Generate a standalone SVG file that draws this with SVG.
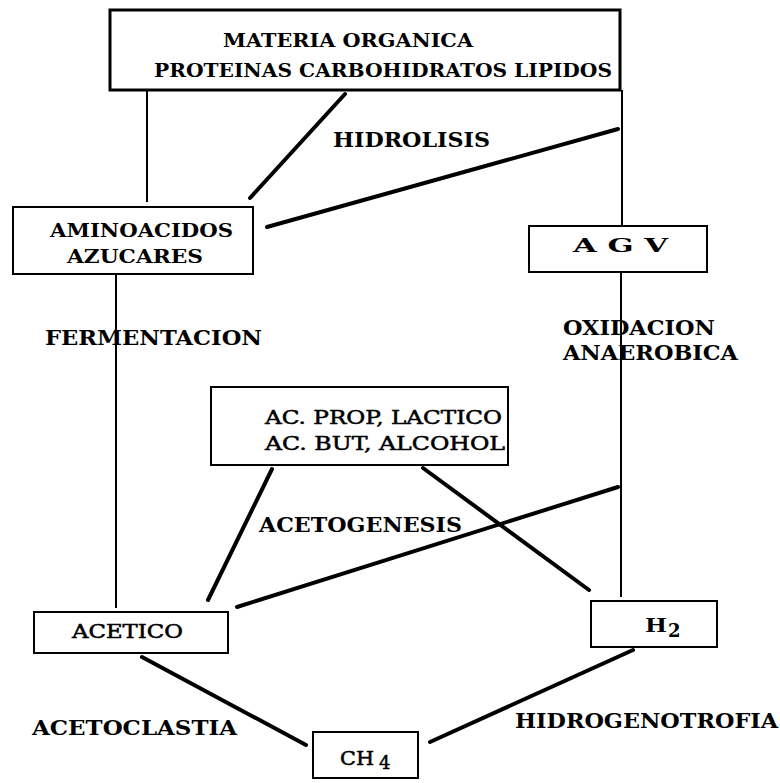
<svg xmlns="http://www.w3.org/2000/svg" width="780" height="783" viewBox="0 0 780 783">
<style>
.box{fill:#fff;stroke:#000;stroke-width:2}
.nt{font-family:"DejaVu Serif","Liberation Serif",serif;font-size:18px;font-weight:bold;fill:#000}
.rg{font-weight:normal;stroke:#000;stroke-width:0.5}
.lb{font-family:"DejaVu Serif","Liberation Serif",serif;font-size:20px;font-weight:bold;fill:#000}
.thin{stroke:#000;stroke-width:2;fill:none}
.thick{stroke:#000;stroke-width:4;fill:none;stroke-linecap:round}
</style>
<rect width="780" height="783" fill="#fff"/>
<g id="connectors">
<line class="thin" x1="147" y1="90" x2="147" y2="202"/>
<line class="thick" x1="345" y1="94" x2="250" y2="198"/>
<line class="thin" x1="622" y1="90" x2="622" y2="225"/>
<line class="thick" x1="618" y1="129" x2="267" y2="227"/>
<line class="thin" x1="116" y1="274" x2="116" y2="608"/>
<line class="thin" x1="621" y1="272" x2="621" y2="597"/>
<line class="thick" x1="272" y1="469" x2="208" y2="600"/>
<line class="thick" x1="423" y1="468" x2="589" y2="590"/>
<line class="thick" x1="618" y1="487" x2="237" y2="607"/>
<line class="thick" x1="142" y1="657" x2="306" y2="745"/>
<line class="thick" x1="633" y1="650" x2="430" y2="742"/>
</g>
<g id="labels">
<text class="lb" x="333" y="147" textLength="157" lengthAdjust="spacingAndGlyphs">HIDROLISIS</text>
<text class="lb" x="45" y="345" textLength="217" lengthAdjust="spacingAndGlyphs">FERMENTACION</text>
<text class="lb" x="563" y="335" textLength="152" lengthAdjust="spacingAndGlyphs">OXIDACION</text>
<text class="lb" x="563" y="360" textLength="175" lengthAdjust="spacingAndGlyphs">ANAEROBICA</text>
<text class="lb" x="259" y="532" textLength="203" lengthAdjust="spacingAndGlyphs">ACETOGENESIS</text>
<text class="lb" x="32" y="735" textLength="205" lengthAdjust="spacingAndGlyphs">ACETOCLASTIA</text>
<text class="lb" x="515" y="728" textLength="263" lengthAdjust="spacingAndGlyphs">HIDROGENOTROFIA</text>
</g>
<g id="materia">
<rect x="110" y="10" width="510" height="80" fill="#fff" stroke="#000" stroke-width="3"/>
<text class="nt" x="223" y="47" font-size="19" textLength="250" lengthAdjust="spacingAndGlyphs">MATERIA ORGANICA</text>
<text class="nt" x="154" y="77" font-size="19" textLength="458" lengthAdjust="spacingAndGlyphs">PROTEINAS  CARBOHIDRATOS  LIPIDOS</text>
</g>
<g id="aminoacidos">
<rect class="box" x="13" y="207" width="240" height="67"/>
<text class="nt" x="50" y="237" textLength="183" lengthAdjust="spacingAndGlyphs">AMINOACIDOS</text>
<text class="nt" x="67" y="263" textLength="136" lengthAdjust="spacingAndGlyphs">AZUCARES</text>
</g>
<g id="agv">
<rect class="box" x="529" y="226" width="178" height="46"/>
<text class="nt" x="573" y="252" textLength="95" lengthAdjust="spacingAndGlyphs">A  G  V</text>
</g>
<g id="acprop">
<rect class="box" x="211" y="387" width="297" height="78"/>
<text class="nt rg" x="265" y="424" textLength="237" lengthAdjust="spacingAndGlyphs">AC. PROP, LACTICO</text>
<text class="nt rg" x="265" y="450" textLength="240" lengthAdjust="spacingAndGlyphs">AC. BUT,  ALCOHOL</text>
</g>
<g id="acetico">
<rect class="box" x="34" y="612" width="194" height="41"/>
<text class="nt rg" x="72" y="638" font-size="17" textLength="111" lengthAdjust="spacingAndGlyphs">ACETICO</text>
</g>
<g id="h2">
<rect class="box" x="591" y="601" width="126" height="46"/>
<text class="nt" x="645" y="632" font-weight="normal" textLength="22" lengthAdjust="spacingAndGlyphs">H</text>
<text class="nt" x="668" y="637" font-size="14" font-weight="normal">2</text>
</g>
<g id="ch4">
<rect class="box" x="313" y="732" width="105" height="46"/>
<text class="nt rg" x="340" y="765" font-size="19" textLength="34" lengthAdjust="spacingAndGlyphs">CH</text>
<text class="nt rg" x="379" y="769" font-size="13">4</text>
</g>
</svg>
